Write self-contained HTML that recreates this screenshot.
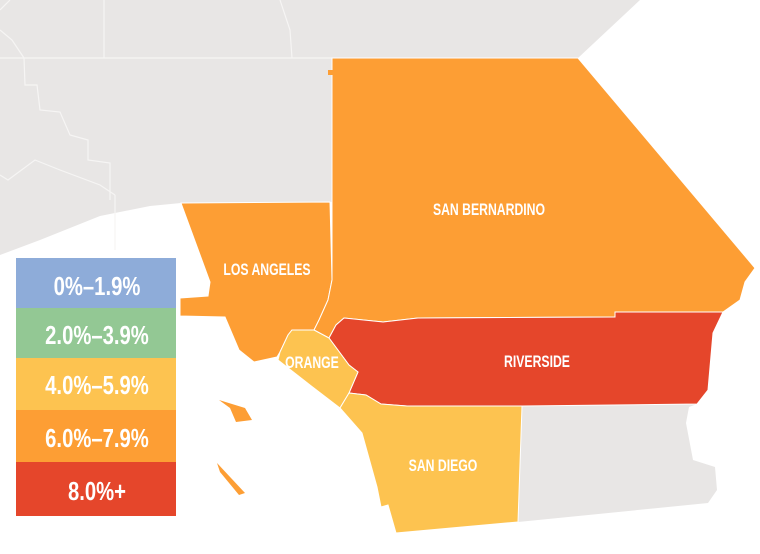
<!DOCTYPE html>
<html><head><style>
html,body{margin:0;padding:0;background:#fff;}
svg{display:block;}
text{font-family:"Liberation Sans",sans-serif;fill:#fff;font-weight:bold;}
</style></head><body>
<svg width="760" height="554" viewBox="0 0 760 554" xmlns="http://www.w3.org/2000/svg">
<rect width="760" height="554" fill="#fff"/>
<polygon fill="#e8e6e5" points="0,0 640,0 578,58 332,58 332,202 181,203 150,206 100,216 40,240 0,255"/>
<g stroke="#f6f5f4" stroke-width="1.2" fill="none">
<polyline points="0,58 332,58"/>
<polyline points="104,0 104,58"/>
<polyline points="0,30 12,40 24,58 25,85 37,85 40,110 60,112 70,135 88,140 88,160 110,163 110,200"/>
<polyline points="0,175 8,180 35,160 60,170 100,185 115,195"/>
<polyline points="115,195 115,250"/>
<polyline points="280,0 290,30 292,58"/>
<polyline points="10,0 0,10"/>
</g>
<polygon fill="#e8e6e5" points="522,406 697,404 689,407 686,423 693,460 715,467 717,490 708,503 518,522"/>
<polygon fill="#fd9e34" stroke="#fff" stroke-width="1" points="181,203 330,202 332,280 328,300 319,320 314,330 292,330 288,335 280,352 277,357 254,362 239,350 225,317 180,316 180,298 208,296 210,282"/>
<polygon fill="#fd9e34" stroke="#fff" stroke-width="1" points="332,58 578,58 755,268 745,282 740,300 723,312 615,312 615,317 418,318 383,322 344,318 336,325 329,338 314,330 319,320 328,300 332,280"/>
<rect x="328" y="70" width="5" height="5" fill="#fd9e34"/>
<polygon fill="#e5462b" stroke="#fff" stroke-width="1" points="329,338 336,325 344,318 383,322 418,318 615,317 615,312 723,312 713,333 708,390 697,404 522,406 407,406 381,404 366,395 349,393 358,372 349,365"/>
<polygon fill="#fdc350" stroke="#fff" stroke-width="1" points="292,330 314,330 329,338 349,365 358,372 349,393 340,408 310,385 278,360 280,352 288,335"/>
<polygon fill="#fdc350" stroke="#fff" stroke-width="1" points="349,393 366,395 381,404 407,406 522,406 518,522 396,533 388,505 381,507 377,487 362,433 340,408"/>
<polygon fill="#fd9e34" points="219,400 245,408 252,420 236,422 230,408"/>
<polygon fill="#fd9e34" points="217,463 245,493 239,495 220,472"/>
<g font-size="17" text-anchor="middle">
<text x="489" y="215" transform="translate(489,0) scale(0.72,1) translate(-489,0)">SAN BERNARDINO</text>
<text x="267" y="275" transform="translate(267,0) scale(0.72,1) translate(-267,0)">LOS ANGELES</text>
<text x="537" y="367" transform="translate(537,0) scale(0.72,1) translate(-537,0)">RIVERSIDE</text>
<text x="312" y="368" transform="translate(312,0) scale(0.72,1) translate(-312,0)">ORANGE</text>
<text x="443" y="471" transform="translate(443,0) scale(0.72,1) translate(-443,0)">SAN DIEGO</text>
</g>
<rect x="16" y="258" width="160" height="50" fill="#8eacd9"/>
<rect x="16" y="308" width="160" height="50" fill="#93c894"/>
<rect x="16" y="358" width="160" height="52" fill="#fdc350"/>
<rect x="16" y="410" width="160" height="52" fill="#fd9e34"/>
<rect x="16" y="462" width="160" height="54" fill="#e5462b"/>
<g font-size="26" text-anchor="middle">
<text x="97" y="295" transform="translate(97,0) scale(0.78,1) translate(-97,0)">0%–1.9%</text>
<text x="97" y="344" transform="translate(97,0) scale(0.78,1) translate(-97,0)">2.0%–3.9%</text>
<text x="97" y="394" transform="translate(97,0) scale(0.78,1) translate(-97,0)">4.0%–5.9%</text>
<text x="97" y="447" transform="translate(97,0) scale(0.78,1) translate(-97,0)">6.0%–7.9%</text>
<text x="97" y="500" transform="translate(97,0) scale(0.78,1) translate(-97,0)">8.0%+</text>
</g>
</svg>
</body></html>
